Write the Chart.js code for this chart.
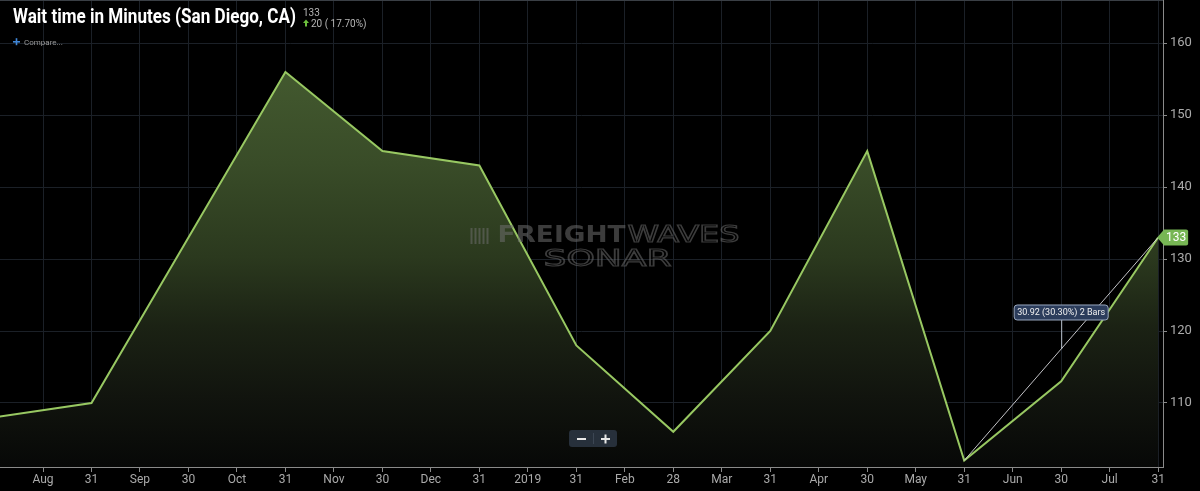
<!DOCTYPE html>
<html>
<head>
<meta charset="utf-8">
<script src="https://cdn.jsdelivr.net/npm/chart.js@4"></script>
<style>
  html, body { margin: 0; background: #000; }
  canvas { display: block; }
</style>
</head>
<body>
<canvas id="chart" width="1200" height="491"></canvas>
<script>
// ─────────────────────────────────────────────
// Data
// ─────────────────────────────────────────────
const X_LABELS = ["Aug","31","Sep","30","Oct","31","Nov","30","Dec","31","2019","31",
                  "Feb","28","Mar","31","Apr","30","May","31","Jun","30","Jul","31"];
// bar index of each month-end reading (Jul 31 2018 sits just off the left edge)
const POINT_IDX = [-1, 1, 3, 5, 7, 9, 11, 13, 15, 17, 19, 21, 23];
const WAIT_MIN  = [108, 110, 133, 156, 145, 143, 118, 106, 120, 145, 102, 113, 133];
const Y_TICKS   = [110, 120, 130, 140, 150, 160];

const TITLE       = "Wait time in Minutes (San Diego, CA)";
const LAST_VALUE  = "133";
const CHANGE_TEXT = "20 ( 17.70%)";
const TREND_FROM  = 10;   // May 31
const TREND_TO    = 12;   // Jul 31
const TREND_LABEL = "30.92 (30.30%) 2 Bars";

const FONT = "Roboto, 'Noto Sans', sans-serif";

// ─────────────────────────────────────────────
// Helpers
// ─────────────────────────────────────────────
function fitText(ctx, text, x, y, width) {
  const w = ctx.measureText(text).width;
  ctx.save();
  ctx.translate(x, y);
  ctx.scale(width / w, 1);
  ctx.fillText(text, 0, 0);
  ctx.restore();
}

function roundRect(ctx, x, y, w, h, r) {
  ctx.beginPath();
  ctx.moveTo(x + r, y);
  ctx.arcTo(x + w, y, x + w, y + h, r);
  ctx.arcTo(x + w, y + h, x, y + h, r);
  ctx.arcTo(x, y + h, x, y, r);
  ctx.arcTo(x, y, x + w, y, r);
  ctx.closePath();
}

// ─────────────────────────────────────────────
// Overlay plugin: watermark, header, badges, annotation
// ─────────────────────────────────────────────
const overlay = {
  id: "overlay",
  afterDatasetsDraw(chart) {
    const { ctx, chartArea: a, scales: { x, y } } = chart;

    // watermark
    const cx = (a.left + a.right) / 2 + 24;
    const cy = 236;
    ctx.save();
    ctx.fillStyle = "rgba(110,110,110,0.55)";
    for (let i = 0; i < 5; i++) ctx.fillRect(cx - 135 + i * 4, cy - 8, 2, 16);
    ctx.font = `bold 23px 'DejaVu Sans', ${FONT}`;
    ctx.textBaseline = "middle";
    fitText(ctx, "FREIGHT", cx - 108, cy, 128);
    ctx.strokeStyle = "rgba(110,110,110,0.55)";
    ctx.lineWidth = 1.2;
    ctx.font = `23px 'DejaVu Sans', ${FONT}`;
    let w = ctx.measureText("WAVES").width;
    ctx.save(); ctx.translate(cx + 22, cy); ctx.scale(112 / w, 1);
    ctx.strokeText("WAVES", 0, 0); ctx.restore();
    w = ctx.measureText("SONAR").width;
    ctx.save(); ctx.translate(cx - 62, cy + 24); ctx.scale(128 / w, 1);
    ctx.strokeText("SONAR", 0, 0); ctx.restore();
    ctx.restore();

    // trend annotation
    const x1 = x.getPixelForValue(POINT_IDX[TREND_FROM]), y1 = y.getPixelForValue(WAIT_MIN[TREND_FROM]);
    const x2 = x.getPixelForValue(POINT_IDX[TREND_TO]),   y2 = y.getPixelForValue(WAIT_MIN[TREND_TO]);
    const mx = (x1 + x2) / 2, my = (y1 + y2) / 2;
    ctx.save();
    ctx.strokeStyle = "#b8c0cc";
    ctx.lineWidth = 1;
    ctx.beginPath(); ctx.moveTo(mx + 0.5, my); ctx.lineTo(mx + 0.5, my - 29); ctx.stroke();
    roundRect(ctx, mx - 47, my - 44, 94, 15, 3);
    ctx.fillStyle = "#2c3d5c";
    ctx.fill();
    ctx.strokeStyle = "#9aa8bf";
    ctx.stroke();
    ctx.fillStyle = "#f0f0f0";
    ctx.font = `9px ${FONT}`;
    ctx.textAlign = "center";
    ctx.textBaseline = "middle";
    ctx.fillText(TREND_LABEL, mx, my - 36);
    ctx.restore();

    // last value badge
    const li = WAIT_MIN.length - 1;
    const bx = x.getPixelForValue(POINT_IDX[li]), by = y.getPixelForValue(WAIT_MIN[li]);
    ctx.save();
    ctx.beginPath();
    ctx.moveTo(bx - 1, by);
    ctx.lineTo(bx + 6, by - 8);
    ctx.lineTo(bx + 28, by - 8);
    ctx.quadraticCurveTo(bx + 30, by - 8, bx + 30, by - 6);
    ctx.lineTo(bx + 30, by + 6);
    ctx.quadraticCurveTo(bx + 30, by + 8, bx + 28, by + 8);
    ctx.lineTo(bx + 6, by + 8);
    ctx.closePath();
    ctx.fillStyle = "#77b654";
    ctx.fill();
    ctx.fillStyle = "#fff";
    ctx.font = `12px ${FONT}`;
    ctx.textAlign = "center";
    ctx.textBaseline = "middle";
    ctx.fillText(String(WAIT_MIN[li]), bx + 18, by + 1);
    ctx.restore();

    // zoom buttons
    ctx.save();
    const zx = 569, zy = a.bottom - 37;
    roundRect(ctx, zx, zy, 48, 17, 3);
    ctx.fillStyle = "#27303b";
    ctx.fill();
    ctx.fillStyle = "#3c4653";
    ctx.fillRect(zx + 24, zy + 3, 1, 11);
    ctx.fillStyle = "#e8e8e8";
    ctx.fillRect(zx + 8, zy + 8, 9, 2);
    ctx.fillRect(zx + 32, zy + 8, 9, 2);
    ctx.fillRect(zx + 35.5, zy + 4.5, 2, 9);
    ctx.restore();
  },
  afterDraw(chart) {
    const { ctx, chartArea: a } = chart;
    ctx.save();
    // top frame line
    ctx.fillStyle = "#3a3f45";
    ctx.fillRect(0, 0, a.right, 1);

    // title
    ctx.fillStyle = "#ffffff";
    ctx.textBaseline = "alphabetic";
    ctx.font = `bold 20px 'Liberation Sans Narrow', ${FONT}`;
    fitText(ctx, TITLE, 13, 23, 283);

    ctx.font = `10px ${FONT}`;
    ctx.fillStyle = "#b5b5b5";
    ctx.fillText(LAST_VALUE, 303, 16);
    ctx.fillText(CHANGE_TEXT, 311, 27);
    ctx.fillStyle = "#6cbf3c";
    ctx.beginPath();
    ctx.moveTo(306, 19.5); ctx.lineTo(309, 23); ctx.lineTo(303, 23); ctx.closePath(); ctx.fill();
    ctx.fillRect(305, 23, 2, 3.5);

    // compare
    ctx.fillStyle = "#3f86d6";
    ctx.fillRect(13, 41, 7, 1.6);
    ctx.fillRect(15.7, 38.2, 1.6, 7);
    ctx.fillStyle = "#9a9a9a";
    ctx.font = `8px ${FONT}`;
    ctx.fillText("Compare...", 24, 45);
    ctx.restore();
  }
};

// ─────────────────────────────────────────────
// Chart
// ─────────────────────────────────────────────
const points = POINT_IDX.map((p, i) => ({ x: p, y: WAIT_MIN[i] }));
const trend  = [TREND_FROM, TREND_TO].map(i => ({ x: POINT_IDX[i], y: WAIT_MIN[i] }));

new Chart(document.getElementById("chart"), {
  type: "line",
  data: {
    datasets: [
      {
        data: trend,
        borderColor: "rgba(215,215,220,0.9)",
        borderWidth: 1,
        pointRadius: 0,
        fill: false,
        order: 0,
      },
      {
        data: points,
        borderColor: "#98c862",
        borderWidth: 2,
        pointRadius: 0,
        tension: 0,
        fill: "start",
        order: 1,
        backgroundColor: (c) => {
          const a = c.chart.chartArea;
          if (!a) return "rgba(60,80,40,0.8)";
          const g = c.chart.ctx.createLinearGradient(0, a.top, 0, a.bottom);
          g.addColorStop(0.00, "#4b6434");
          g.addColorStop(0.15, "#43592f");
          g.addColorStop(0.35, "#394c28");
          g.addColorStop(0.55, "#2b391e");
          g.addColorStop(0.70, "#1b2214");
          g.addColorStop(0.85, "#11140e");
          g.addColorStop(1.00, "#070807");
          return g;
        },
      },
    ],
  },
  options: {
    responsive: false,
    animation: false,
    devicePixelRatio: 1,
    layout: { padding: 0 },
    plugins: { legend: { display: false }, tooltip: { enabled: false } },
    scales: {
      x: {
        type: "linear",
        position: "bottom",
        min: -0.887,
        max: 23.1,
        afterBuildTicks: s => { s.ticks = X_LABELS.map((_, i) => ({ value: i })); },
        afterFit: s => { s.height = 24; s.paddingLeft = 0; s.paddingRight = 0; },
        grid: { color: "#1b2027", tickColor: "#8a8a8a", tickLength: 5 },
        border: { color: "#8a8a8a" },
        ticks: {
          color: "#aaaaaa",
          font: { family: FONT, size: 12 },
          padding: 1,
          autoSkip: false,
          maxRotation: 0,
          callback: v => X_LABELS[v] ?? "",
        },
      },
      y: {
        position: "right",
        min: 101.1,
        max: 166,
        afterBuildTicks: s => { s.ticks = Y_TICKS.map(v => ({ value: v })); },
        afterFit: s => { s.width = 37; s.paddingTop = 0; s.paddingBottom = 0; },
        grid: { color: "#1b2027", tickColor: "#8a8a8a", tickLength: 4 },
        border: { color: "#8a8a8a" },
        ticks: {
          color: "#aaaaaa",
          font: { family: FONT, size: 13 },
          padding: 3,
        },
      },
    },
  },
  plugins: [overlay],
});
</script>
</body>
</html>
